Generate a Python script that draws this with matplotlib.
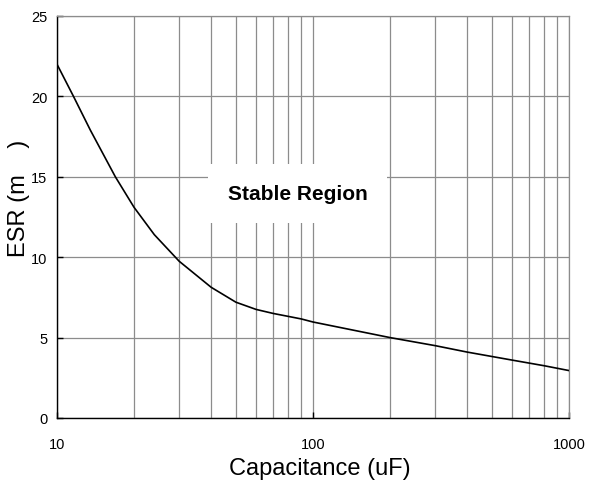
import numpy as np
import matplotlib
matplotlib.use("Agg")
import matplotlib.pyplot as plt
from matplotlib.ticker import FixedLocator, NullFormatter

plt.rcParams['font.family'] = ['Liberation Sans', 'DejaVu Sans']

# ESR vs capacitance boundary curve
capacitance = [10, 11.6, 13.5, 16.9, 20, 24, 30, 40, 50, 60, 70, 80, 90,
               100, 200, 300, 400, 600, 800, 1000]
esr = [22.0, 20.0, 17.9, 15.0, 13.1, 11.4, 9.75, 8.13, 7.2, 6.75, 6.5, 6.32,
       6.16, 5.97, 5.0, 4.5, 4.1, 3.6, 3.25, 2.95]

x_ticks = [10, 100, 1000]
x_labels = ['10', '100', '1000']
y_ticks = [0, 5, 10, 15, 20, 25]

fig = plt.figure(figsize=(5.89, 4.81), dpi=100)
ax = fig.add_axes([57 / 589, 1 - 419 / 481, 512 / 589, 402 / 481])

ax.plot(capacitance, esr, color='black', lw=1.2, zorder=3)

ax.set_xscale('log')
ax.set_xlim(10, 1000)
ax.set_ylim(0, 25)

ax.set_xticks(x_ticks)
ax.set_xticklabels(x_labels)
ax.xaxis.set_minor_locator(FixedLocator([v * d for d in (10, 100) for v in range(2, 10)]))
ax.xaxis.set_minor_formatter(NullFormatter())
ax.set_yticks(y_ticks)

ax.grid(True, which='both', axis='x', color='#8c8c8c', lw=0.9)
ax.grid(True, which='major', axis='y', color='#8c8c8c', lw=0.9)
ax.tick_params(which='major', direction='in', length=4, width=1, color='black',
               labelsize=10.5)
ax.tick_params(axis='x', which='major', pad=13.5)
ax.tick_params(axis='y', which='major', pad=7)
ax.tick_params(which='minor', length=0)

for side in ('top', 'right'):
    ax.spines[side].set_color('#8c8c8c')
    ax.spines[side].set_linewidth(0.9)
for side in ('left', 'bottom'):
    ax.spines[side].set_color('black')
    ax.spines[side].set_linewidth(1.0)

ax.set_xlabel('Capacitance (uF)', fontsize=17)
ax.xaxis.set_label_coords(0.514, -0.097)
ax.set_ylabel('ESR (m    )', fontsize=17)
ax.yaxis.set_label_coords(-0.053, 0.548)

ax.text(86.9, 13.62, 'Stable Region', fontsize=15, fontweight='bold',
        ha='center', va='baseline', zorder=4,
        bbox=dict(boxstyle='square,pad=0.95', fc='white', ec='none'))

fig.savefig('out.png', dpi=100)
